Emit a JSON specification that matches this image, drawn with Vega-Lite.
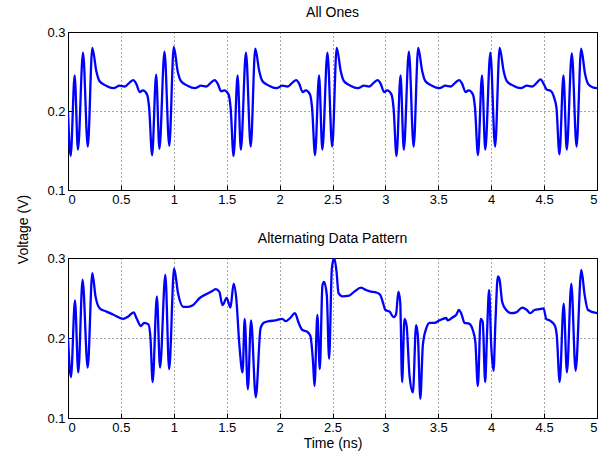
{
  "$schema": "https://vega.github.io/schema/vega-lite/v6.json",
  "background": "white",
  "padding": {"left": 15, "top": 5, "right": 5, "bottom": 5},
  "bounds": "flush",
  "spacing": 68,
  "config": {
    "font": "Liberation Sans",
    "view": {"stroke": "#000", "strokeWidth": 1},
    "axis": {
      "labelFontSize": 13, "labelColor": "#000", "labelFont": "Liberation Sans",
      "titleFontSize": 14, "titleFontWeight": "normal", "titleColor": "#000", "titleFont": "Liberation Sans",
      "domainColor": "#000", "tickColor": "#000", "tickSize": -5, "labelPadding": 8,
      "grid": true, "gridColor": "#000", "gridDash": [1, 3], "gridOpacity": 0.7, "gridWidth": 1
    },
    "title": {"fontSize": 14, "fontWeight": "normal", "color": "#000", "font": "Liberation Sans", "offset": 6}
  },
  "datasets": {
    "ones": [
      {"t": 0, "v": 0.198},
      {"t": 0.025, "v": 0.143}, {"t": 0.063, "v": 0.245}, {"t": 0.094, "v": 0.151}, {"t": 0.142, "v": 0.274}, {"t": 0.187, "v": 0.155}, {"t": 0.23, "v": 0.280},
      {"t": 0.267, "v": 0.251}, {"t": 0.297, "v": 0.238}, {"t": 0.36, "v": 0.232}, {"t": 0.43, "v": 0.229}, {"t": 0.487, "v": 0.232}, {"t": 0.537, "v": 0.231},
      {"t": 0.582, "v": 0.236}, {"t": 0.617, "v": 0.239}, {"t": 0.647, "v": 0.234}, {"t": 0.677, "v": 0.224}, {"t": 0.707, "v": 0.226}, {"t": 0.747, "v": 0.221}, {"t": 0.767, "v": 0.204},
      {"t": 0.795, "v": 0.144}, {"t": 0.833, "v": 0.246}, {"t": 0.864, "v": 0.152}, {"t": 0.912, "v": 0.275}, {"t": 0.957, "v": 0.156}, {"t": 1.0, "v": 0.281},
      {"t": 1.037, "v": 0.250}, {"t": 1.067, "v": 0.238}, {"t": 1.13, "v": 0.232}, {"t": 1.2, "v": 0.229}, {"t": 1.257, "v": 0.232}, {"t": 1.307, "v": 0.231},
      {"t": 1.352, "v": 0.236}, {"t": 1.387, "v": 0.239}, {"t": 1.417, "v": 0.234}, {"t": 1.447, "v": 0.225}, {"t": 1.477, "v": 0.226}, {"t": 1.517, "v": 0.221}, {"t": 1.537, "v": 0.204},
      {"t": 1.565, "v": 0.143}, {"t": 1.603, "v": 0.245}, {"t": 1.634, "v": 0.151}, {"t": 1.682, "v": 0.274}, {"t": 1.727, "v": 0.155}, {"t": 1.77, "v": 0.279},
      {"t": 1.807, "v": 0.251}, {"t": 1.837, "v": 0.238}, {"t": 1.9, "v": 0.232}, {"t": 1.97, "v": 0.229}, {"t": 2.027, "v": 0.232}, {"t": 2.077, "v": 0.231},
      {"t": 2.122, "v": 0.236}, {"t": 2.157, "v": 0.239}, {"t": 2.187, "v": 0.234}, {"t": 2.217, "v": 0.224}, {"t": 2.247, "v": 0.226}, {"t": 2.287, "v": 0.221}, {"t": 2.307, "v": 0.204},
      {"t": 2.335, "v": 0.144}, {"t": 2.373, "v": 0.245}, {"t": 2.404, "v": 0.151}, {"t": 2.452, "v": 0.274}, {"t": 2.497, "v": 0.155}, {"t": 2.54, "v": 0.280},
      {"t": 2.577, "v": 0.251}, {"t": 2.607, "v": 0.238}, {"t": 2.67, "v": 0.232}, {"t": 2.74, "v": 0.229}, {"t": 2.797, "v": 0.232}, {"t": 2.847, "v": 0.231},
      {"t": 2.892, "v": 0.236}, {"t": 2.927, "v": 0.239}, {"t": 2.957, "v": 0.234}, {"t": 2.987, "v": 0.224}, {"t": 3.017, "v": 0.226}, {"t": 3.057, "v": 0.221}, {"t": 3.077, "v": 0.204},
      {"t": 3.105, "v": 0.143}, {"t": 3.143, "v": 0.245}, {"t": 3.174, "v": 0.151}, {"t": 3.222, "v": 0.275}, {"t": 3.267, "v": 0.155}, {"t": 3.31, "v": 0.280},
      {"t": 3.347, "v": 0.251}, {"t": 3.377, "v": 0.238}, {"t": 3.44, "v": 0.232}, {"t": 3.51, "v": 0.229}, {"t": 3.567, "v": 0.232}, {"t": 3.617, "v": 0.231},
      {"t": 3.662, "v": 0.236}, {"t": 3.697, "v": 0.239}, {"t": 3.727, "v": 0.234}, {"t": 3.757, "v": 0.224}, {"t": 3.787, "v": 0.226}, {"t": 3.827, "v": 0.221}, {"t": 3.847, "v": 0.204},
      {"t": 3.875, "v": 0.144}, {"t": 3.913, "v": 0.245}, {"t": 3.944, "v": 0.151}, {"t": 3.992, "v": 0.274}, {"t": 4.037, "v": 0.155}, {"t": 4.08, "v": 0.280},
      {"t": 4.117, "v": 0.251}, {"t": 4.147, "v": 0.238}, {"t": 4.21, "v": 0.232}, {"t": 4.28, "v": 0.229}, {"t": 4.337, "v": 0.232}, {"t": 4.387, "v": 0.231},
      {"t": 4.432, "v": 0.236}, {"t": 4.467, "v": 0.240}, {"t": 4.497, "v": 0.234}, {"t": 4.527, "v": 0.227}, {"t": 4.557, "v": 0.226}, {"t": 4.597, "v": 0.216}, {"t": 4.617, "v": 0.204},
      {"t": 4.645, "v": 0.145}, {"t": 4.683, "v": 0.245}, {"t": 4.714, "v": 0.151}, {"t": 4.762, "v": 0.273}, {"t": 4.807, "v": 0.155}, {"t": 4.85, "v": 0.279},
      {"t": 4.887, "v": 0.247}, {"t": 4.917, "v": 0.234}, {"t": 4.96, "v": 0.230}, {"t": 5.0, "v": 0.229}
    ],
    "alt": [
      {"t": 0, "v": 0.2}, {"t": 0.028, "v": 0.151}, {"t": 0.066, "v": 0.247}, {"t": 0.097, "v": 0.157}, {"t": 0.138, "v": 0.273}, {"t": 0.186, "v": 0.163}, {"t": 0.23, "v": 0.281},
      {"t": 0.26, "v": 0.252}, {"t": 0.30, "v": 0.237}, {"t": 0.365, "v": 0.233}, {"t": 0.43, "v": 0.229}, {"t": 0.52, "v": 0.224}, {"t": 0.57, "v": 0.227},
      {"t": 0.62, "v": 0.232}, {"t": 0.65, "v": 0.224}, {"t": 0.69, "v": 0.215}, {"t": 0.72, "v": 0.219}, {"t": 0.76, "v": 0.217}, {"t": 0.78, "v": 0.199},
      {"t": 0.80, "v": 0.145}, {"t": 0.84, "v": 0.252}, {"t": 0.87, "v": 0.163}, {"t": 0.92, "v": 0.279}, {"t": 0.956, "v": 0.161}, {"t": 1.003, "v": 0.287},
      {"t": 1.04, "v": 0.256}, {"t": 1.09, "v": 0.239}, {"t": 1.135, "v": 0.239}, {"t": 1.18, "v": 0.241}, {"t": 1.245, "v": 0.25}, {"t": 1.31, "v": 0.255},
      {"t": 1.355, "v": 0.258}, {"t": 1.396, "v": 0.261}, {"t": 1.43, "v": 0.258}, {"t": 1.46, "v": 0.241}, {"t": 1.50, "v": 0.25}, {"t": 1.535, "v": 0.238},
      {"t": 1.566, "v": 0.268}, {"t": 1.59, "v": 0.25}, {"t": 1.62, "v": 0.191}, {"t": 1.65, "v": 0.157}, {"t": 1.67, "v": 0.224}, {"t": 1.70, "v": 0.136},
      {"t": 1.73, "v": 0.222}, {"t": 1.775, "v": 0.126}, {"t": 1.82, "v": 0.212}, {"t": 1.85, "v": 0.219}, {"t": 1.90, "v": 0.221}, {"t": 1.96, "v": 0.222},
      {"t": 2.025, "v": 0.224}, {"t": 2.057, "v": 0.221}, {"t": 2.10, "v": 0.225}, {"t": 2.145, "v": 0.231}, {"t": 2.18, "v": 0.219}, {"t": 2.215, "v": 0.21},
      {"t": 2.26, "v": 0.208}, {"t": 2.29, "v": 0.203}, {"t": 2.316, "v": 0.17}, {"t": 2.33, "v": 0.14}, {"t": 2.357, "v": 0.229}, {"t": 2.38, "v": 0.161},
      {"t": 2.405, "v": 0.266}, {"t": 2.42, "v": 0.27}, {"t": 2.446, "v": 0.254}, {"t": 2.468, "v": 0.174}, {"t": 2.494, "v": 0.287}, {"t": 2.516, "v": 0.30},
      {"t": 2.538, "v": 0.283}, {"t": 2.557, "v": 0.256}, {"t": 2.595, "v": 0.252}, {"t": 2.658, "v": 0.253}, {"t": 2.706, "v": 0.258}, {"t": 2.77, "v": 0.263},
      {"t": 2.816, "v": 0.26}, {"t": 2.864, "v": 0.258}, {"t": 2.91, "v": 0.257}, {"t": 2.95, "v": 0.254}, {"t": 2.975, "v": 0.245}, {"t": 3.0, "v": 0.235},
      {"t": 3.04, "v": 0.233}, {"t": 3.076, "v": 0.226}, {"t": 3.10, "v": 0.229}, {"t": 3.123, "v": 0.258}, {"t": 3.14, "v": 0.245}, {"t": 3.158, "v": 0.145},
      {"t": 3.18, "v": 0.224}, {"t": 3.20, "v": 0.216}, {"t": 3.228, "v": 0.153}, {"t": 3.26, "v": 0.132}, {"t": 3.29, "v": 0.216}, {"t": 3.307, "v": 0.203},
      {"t": 3.33, "v": 0.124}, {"t": 3.354, "v": 0.191}, {"t": 3.386, "v": 0.212}, {"t": 3.418, "v": 0.219}, {"t": 3.465, "v": 0.219}, {"t": 3.51, "v": 0.222},
      {"t": 3.574, "v": 0.225}, {"t": 3.59, "v": 0.222}, {"t": 3.637, "v": 0.226}, {"t": 3.67, "v": 0.229}, {"t": 3.694, "v": 0.235}, {"t": 3.716, "v": 0.231},
      {"t": 3.748, "v": 0.219}, {"t": 3.79, "v": 0.218}, {"t": 3.826, "v": 0.21}, {"t": 3.85, "v": 0.195}, {"t": 3.874, "v": 0.14}, {"t": 3.90, "v": 0.224},
      {"t": 3.92, "v": 0.22}, {"t": 3.943, "v": 0.145}, {"t": 3.96, "v": 0.203}, {"t": 3.98, "v": 0.26}, {"t": 4.0, "v": 0.191}, {"t": 4.022, "v": 0.159},
      {"t": 4.04, "v": 0.22}, {"t": 4.063, "v": 0.277}, {"t": 4.079, "v": 0.273}, {"t": 4.104, "v": 0.245}, {"t": 4.142, "v": 0.235}, {"t": 4.19, "v": 0.231},
      {"t": 4.237, "v": 0.232}, {"t": 4.293, "v": 0.238}, {"t": 4.337, "v": 0.235}, {"t": 4.37, "v": 0.231}, {"t": 4.41, "v": 0.235}, {"t": 4.457, "v": 0.236},
      {"t": 4.495, "v": 0.237}, {"t": 4.52, "v": 0.224}, {"t": 4.552, "v": 0.222}, {"t": 4.6, "v": 0.216}, {"t": 4.62, "v": 0.203}, {"t": 4.647, "v": 0.145},
      {"t": 4.685, "v": 0.243}, {"t": 4.716, "v": 0.157}, {"t": 4.757, "v": 0.268}, {"t": 4.798, "v": 0.159}, {"t": 4.852, "v": 0.285}, {"t": 4.883, "v": 0.254},
      {"t": 4.915, "v": 0.235}, {"t": 5.0, "v": 0.231}
    ]
  },
  "vconcat": [
    {
      "title": "All Ones",
      "width": 529, "height": 158,
      "data": {"name": "ones"},
      "mark": {"type": "line", "color": "#0000ff", "strokeWidth": 2.3, "clip": true, "interpolate": "monotone"},
      "encoding": {
        "x": {"field": "t", "type": "quantitative", "scale": {"domain": [0, 5], "nice": false},
              "axis": {"values": [0, 0.5, 1, 1.5, 2, 2.5, 3, 3.5, 4, 4.5, 5], "format": "~g", "title": null}},
        "y": {"field": "v", "type": "quantitative", "scale": {"domain": [0.1, 0.3], "zero": false, "nice": false},
              "axis": {"values": [0.1, 0.2, 0.3], "format": ".1f", "title": "Voltage (V)", "titleX": -38, "titleY": 197}}
      }
    },
    {
      "title": "Alternating Data Pattern",
      "width": 529, "height": 160,
      "data": {"name": "alt"},
      "mark": {"type": "line", "color": "#0000ff", "strokeWidth": 2.3, "clip": true, "interpolate": "monotone"},
      "encoding": {
        "x": {"field": "t", "type": "quantitative", "scale": {"domain": [0, 5], "nice": false},
              "axis": {"values": [0, 0.5, 1, 1.5, 2, 2.5, 3, 3.5, 4, 4.5, 5], "format": "~g", "title": "Time (ns)", "titlePadding": 2}},
        "y": {"field": "v", "type": "quantitative", "scale": {"domain": [0.1, 0.3], "zero": false, "nice": false},
              "axis": {"values": [0.1, 0.2, 0.3], "format": ".1f", "title": null}}
      }
    }
  ]
}
